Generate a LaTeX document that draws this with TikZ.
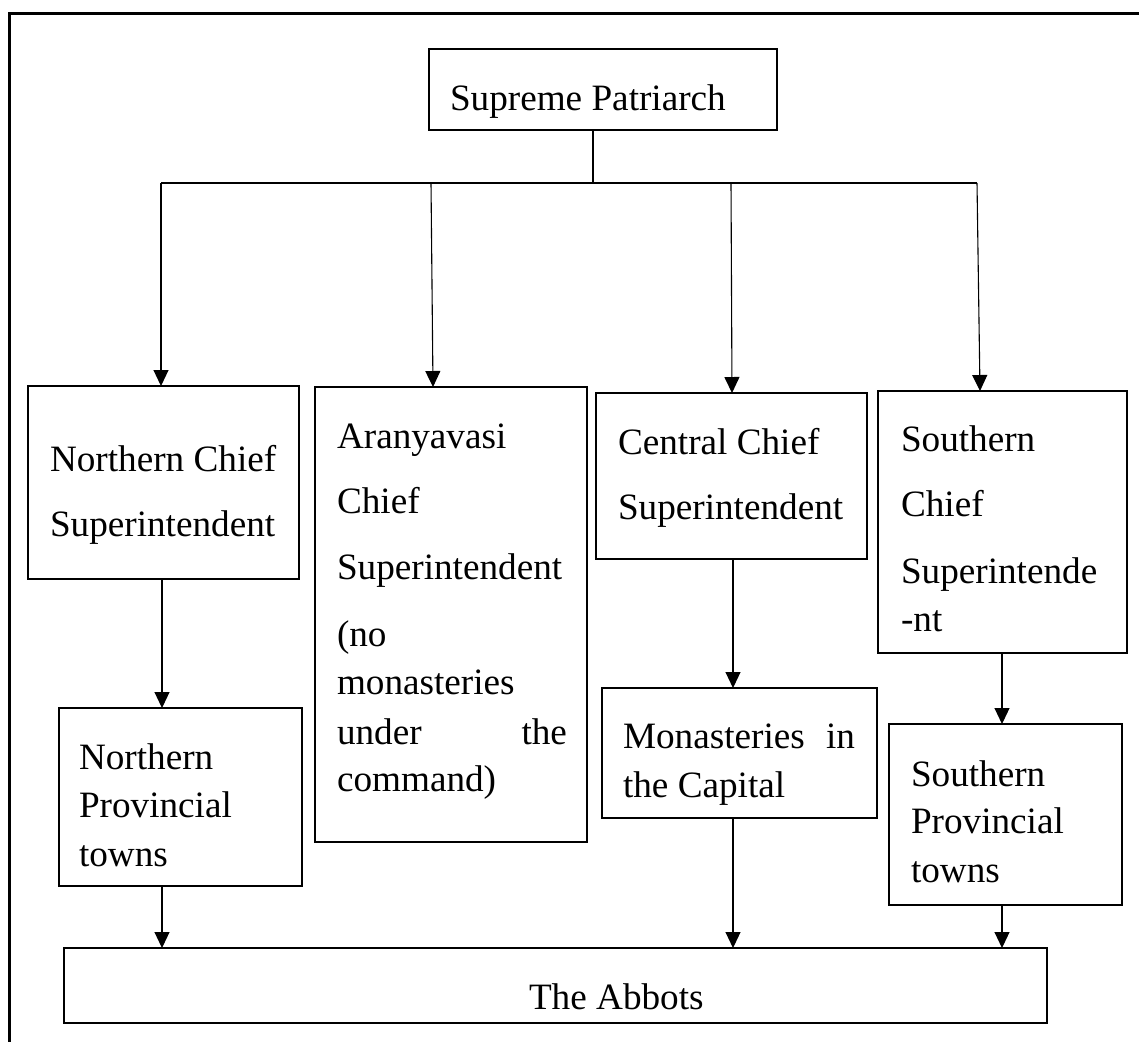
\documentclass[tikz,border=0pt]{standalone}
\usepackage{fontspec}
\setmainfont{Liberation Serif}
\usetikzlibrary{arrows.meta}
% top-aligned block of lines: its first baseline is the node's base
\newcommand\lines[2]{\parbox[t]{#1pt}{\raggedright #2}}
\begin{document}
\begin{tikzpicture}[x=1pt,y=-1pt,
  box/.style={draw, line width=2.6pt, anchor=north west, inner sep=0pt, outer sep=0pt},
  lbl/.style={anchor=base west, inner sep=0pt, outer sep=0pt,
              font=\fontsize{37.2}{65}\selectfont},
  link/.style={line width=1.1pt},
  arr/.style={link, -{Triangle[length=16pt,width=15pt]}},
  frame/.style={line width=3pt}]
\useasboundingbox (0,0) rectangle (1139,1042);

% page frame (top and left rules)
\coordinate (fr) at (1139,13);
\coordinate (ftl) at (9,13);
\coordinate (fb) at (9,1042);
\draw[frame] (fr) -- (ftl) -- (fb);

% boxes
\node[box, minimum width=348pt, minimum height=81pt]  (sp)  at (429,49)  {};
\node[box, minimum width=271pt, minimum height=193pt] (nc)  at (28,386)  {};
\node[box, minimum width=272pt, minimum height=455pt] (ac)  at (315,387) {};
\node[box, minimum width=271pt, minimum height=166pt] (cc)  at (596,393) {};
\node[box, minimum width=249pt, minimum height=262pt] (sc)  at (878,391) {};
\node[box, minimum width=243pt, minimum height=178pt] (npt) at (59,708)  {};
\node[box, minimum width=275pt, minimum height=130pt] (mon) at (602,688) {};
\node[box, minimum width=233pt, minimum height=181pt] (spt) at (889,724) {};
\node[box, minimum width=983pt, minimum height=75pt]  (ab)  at (64,948)  {};

% texts
\node[lbl] (tsp)  at (450,110) {Supreme Patriarch};
\node[lbl] (tnc)  at (50,471)  {\lines{260}{Northern Chief\\Superintendent}};
\node[lbl] (tac)  at (337,448) {\lines{230}{Aranyavasi\\Chief\\[1pt]Superintendent\\[2pt](no\\[-17pt]monasteries\\[-15pt]under\hfill the\\[-18pt]command)}};
\node[lbl] (tcc)  at (618,454) {\lines{240}{Central Chief\\Superintendent}};
\node[lbl] (tsc)  at (901,451) {\lines{220}{Southern\\Chief\\[2pt]Superintende\\[-17pt]-nt}};
\node[lbl] (tnpt) at (79,769)  {\lines{220}{Northern\\[-17pt]Provincial\\[-16pt]towns}};
\node[lbl] (tmon) at (623,748) {\lines{232}{Monasteries\hfill in\\[-16pt]the Capital}};
\node[lbl] (tspt) at (911,786) {\lines{200}{Southern\\[-18pt]Provincial\\[-16pt]towns}};
\node[lbl] (tab)  at (529,1009) {The Abbots};

% connector columns
\coordinate (st) at (593,183);
\coordinate (c1) at (161,183);
\coordinate (c2) at (431,183);
\coordinate (c3) at (731,183);
\coordinate (c4) at (977,183);
\coordinate (d2) at (433,0);
\coordinate (d3) at (732,0);
\coordinate (d4) at (980,0);
\coordinate (n1) at (162,0);
\coordinate (m1) at (733,0);
\coordinate (s1) at (1002,0);

% branch from the top
\draw[link] (st |- sp.south) -- (st);
\draw[link] (c1) -- (c4);
\draw[arr] (c1) -- (c1 |- nc.north);
\draw[arr] (c2) -- (d2 |- ac.north);
\draw[arr] (c3) -- (d3 |- cc.north);
\draw[arr] (c4) -- (d4 |- sc.north);

% lower levels
\draw[arr] (n1 |- nc.south)  -- (n1 |- npt.north);
\draw[arr] (n1 |- npt.south) -- (n1 |- ab.north);
\draw[arr] (m1 |- cc.south)  -- (m1 |- mon.north);
\draw[arr] (m1 |- mon.south) -- (m1 |- ab.north);
\draw[arr] (s1 |- sc.south)  -- (s1 |- spt.north);
\draw[arr] (s1 |- spt.south) -- (s1 |- ab.north);
\end{tikzpicture}
\end{document}
